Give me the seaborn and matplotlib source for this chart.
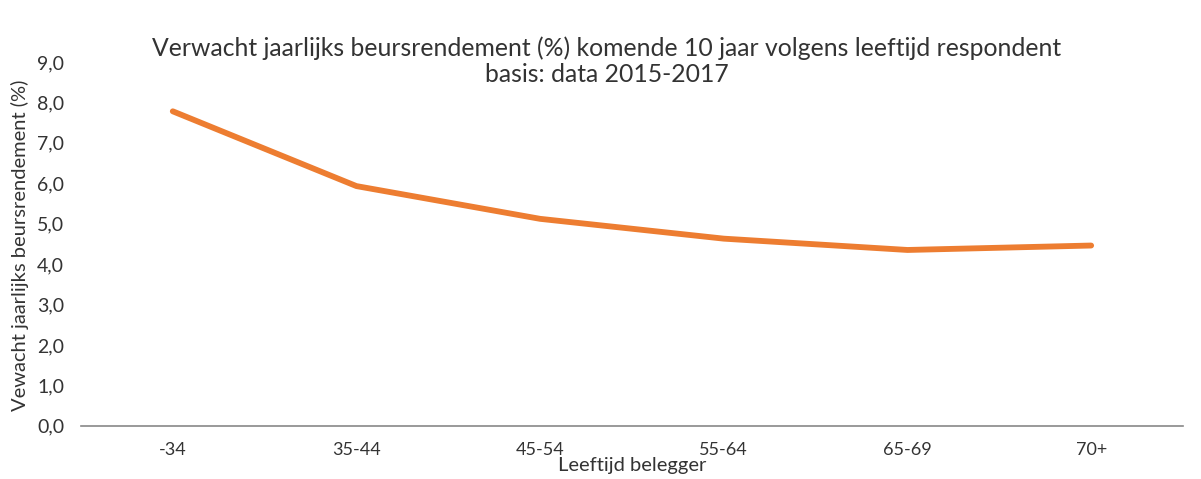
import pandas as pd
import seaborn as sns
import matplotlib.pyplot as plt
from matplotlib.ticker import FixedLocator, FuncFormatter

leeftijd = ['-34', '35-44', '45-54', '55-64', '65-69', '70+']
rendement = [7.78, 5.93, 5.12, 4.63, 4.35, 4.46]

df = pd.DataFrame({'leeftijd': leeftijd, 'rendement': rendement})

sns.set_style('white')
plt.rcParams['font.family'] = ['Lato', 'DejaVu Sans']

fig = plt.figure(figsize=(12.01, 4.79), dpi=100)
ax = fig.add_axes([0.0674, 0.111, 0.9176, 0.7596])

sns.lineplot(data=df, x='leeftijd', y='rendement', color='#ED7D31',
             linewidth=4.2, sort=False, ax=ax)

ax.set_xlim(-0.5, 5.5)
ax.set_ylim(0, 9)
ax.set_yticks(range(0, 10))
ax.yaxis.set_major_formatter(FuncFormatter(lambda v, p: f'{v:.1f}'.replace('.', ',')))

# tick marks tussen de categorieën
ax.xaxis.set_minor_locator(FixedLocator([i - 0.5 for i in range(7)]))
ax.tick_params(axis='x', which='major', length=0, pad=12, labelsize=13, colors='#333333')
ax.tick_params(axis='x', which='minor', length=6, width=1, color='#888888', direction='out')
ax.tick_params(axis='y', length=0, pad=12, labelsize=14, colors='#333333')

for s in ['top', 'right', 'left']:
    ax.spines[s].set_visible(False)
ax.spines['bottom'].set_color('#888888')
ax.spines['bottom'].set_linewidth(1.2)

ax.set_xlabel('Leeftijd belegger', fontsize=14.5, color='#333333')
ax.xaxis.set_label_coords(0.5, -0.085)
ax.set_ylabel('Vewacht jaarlijks beursrendement (%)', fontsize=14.5, color='#333333')
ax.yaxis.set_label_coords(-0.047, 0.495)

fig.text(0.505, 0.873, 'Verwacht jaarlijks beursrendement (%) komende 10 jaar volgens leeftijd respondent\nbasis: data 2015-2017',
         ha='center', va='center', fontsize=17.8, color='#333333', linespacing=1.15)

fig.savefig('out.png', dpi=100)
